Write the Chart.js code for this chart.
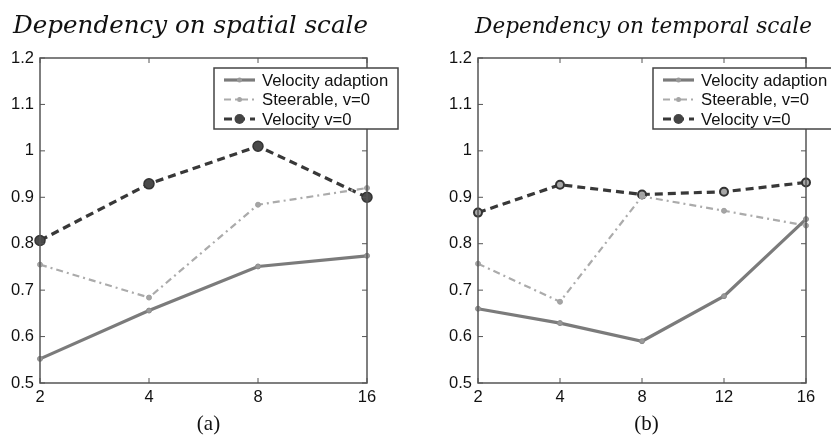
<!DOCTYPE html>
<html>
<head>
<meta charset="utf-8">
<script src="https://cdn.jsdelivr.net/npm/chart.js@4/dist/chart.umd.min.js"></script>
<style>
  html, body { margin: 0; padding: 0; background: #fff; }
  #wrap { position: relative; width: 831px; height: 436px; overflow: hidden; }
  .pane { position: absolute; top: 0; height: 436px; }
</style>
</head>
<body>
<div id="wrap">
  <div class="pane" style="left:0;width:415px;"><canvas id="ca"></canvas></div>
  <div class="pane" style="left:415px;width:416px;"><canvas id="cb"></canvas></div>
</div>
<script>
// ---------- data ----------
const titleA = 'Dependency on spatial scale';
const titleB = 'Dependency on temporal scale';
const captionA = '(a)';
const captionB = '(b)';

const spatialScales = ['2', '4', '8', '16'];
const temporalScales = ['2', '4', '8', '12', '16'];

const seriesNames = ['Velocity adaption', 'Steerable, v=0', 'Velocity v=0'];

const spatialVelocityAdaption = [0.552, 0.656, 0.751, 0.774];
const spatialSteerable = [0.755, 0.684, 0.884, 0.920];
const spatialVelocityV0 = [0.807, 0.929, 1.010, 0.900];

const temporalVelocityAdaption = [0.660, 0.629, 0.590, 0.687, 0.853];
const temporalSteerable = [0.757, 0.675, 0.902, 0.871, 0.839];
const temporalVelocityV0 = [0.867, 0.927, 0.906, 0.912, 0.932];

const yTickLabels = ['0.5', '0.6', '0.7', '0.8', '0.9', '1', '1.1', '1.2'];
const yMin = 0.5, yMax = 1.2, yStep = 0.1;

// ---------- styles ----------
const styles = [
  { color: '#7b7b7b', width: 3.2, dash: [], r: 2.5, fill: '#9a9a9a', border: '#8a8a8a', bw: 1 },
  { color: '#ababab', width: 2.2, dash: [7, 4, 2, 4], r: 2.5, fill: '#a5a5a5', border: '#a0a0a0', bw: 1 },
  { color: '#383838', width: 3.2, dash: [8, 5], r: 5, fill: '#4a4a4a', border: '#333333', bw: 1.5 }
];

function makeDatasets(arrs, v0Hollow) {
  return arrs.map((d, i) => {
    const s = styles[i];
    let fill = s.fill, border = s.border, r = s.r, bw = s.bw;
    if (i === 2 && v0Hollow) { fill = '#a8a8a8'; border = '#333'; r = 4; bw = 2; }
    return {
      label: seriesNames[i],
      data: d,
      borderColor: s.color,
      borderWidth: s.width,
      borderDash: s.dash,
      pointRadius: r,
      pointBackgroundColor: fill,
      pointBorderColor: border,
      pointBorderWidth: bw,
      tension: 0,
      fill: false,
      clip: false
    };
  });
}

Chart.defaults.font.family = "'Liberation Sans', Arial, sans-serif";
Chart.defaults.color = '#111';

const titleFont = "'DejaVu Serif', 'Liberation Serif', serif";

function fitFont(ctx, text, targetW, base) {
  ctx.font = 'italic 24px ' + base;
  const w = ctx.measureText(text).width;
  return 24 * targetW / w;
}

const framePlugin = {
  id: 'frame',
  afterDatasetsDraw(chart, args, opts) {
    const { ctx, chartArea: a, scales } = chart;
    ctx.save();
    ctx.strokeStyle = '#555';
    ctx.lineWidth = 1.5;
    ctx.setLineDash([]);
    ctx.strokeRect(a.left, a.top, a.right - a.left, a.bottom - a.top);
    ctx.lineWidth = 1;
    const tl = 5;
    scales.y.ticks.forEach(t => {
      const y = scales.y.getPixelForValue(t.value);
      ctx.beginPath();
      ctx.moveTo(a.left, y); ctx.lineTo(a.left + tl, y);
      ctx.moveTo(a.right, y); ctx.lineTo(a.right - tl, y);
      ctx.stroke();
    });
    scales.x.ticks.forEach((t, i) => {
      const x = scales.x.getPixelForValue(i);
      ctx.beginPath();
      ctx.moveTo(x, a.bottom); ctx.lineTo(x, a.bottom - tl);
      ctx.moveTo(x, a.top); ctx.lineTo(x, a.top + tl);
      ctx.stroke();
    });
    ctx.restore();
  },
  afterDraw(chart, args, opts) {
    const { ctx } = chart;
    ctx.save();
    const fs = fitFont(ctx, opts.title, opts.titleW, titleFont);
    ctx.font = 'italic ' + fs.toFixed(2) + 'px ' + titleFont;
    ctx.fillStyle = '#111';
    ctx.textAlign = 'center';
    ctx.textBaseline = 'alphabetic';
    ctx.fillText(opts.title, opts.titleX, 33);
    ctx.font = '21px ' + "'Liberation Serif', serif";
    ctx.textBaseline = 'middle';
    ctx.fillText(opts.caption, opts.captionX, 424);
    const L = opts.legend;
    ctx.fillStyle = '#fff';
    ctx.fillRect(L.x, L.y, L.w, L.h);
    ctx.strokeStyle = '#444';
    ctx.lineWidth = 1.5;
    ctx.strokeRect(L.x, L.y, L.w, L.h);
    chart.data.datasets.forEach((ds, i) => {
      const cy = L.y + 12 + i * 19.5;
      const x0 = L.x + 10, x1 = L.x + 41;
      ctx.beginPath();
      ctx.strokeStyle = ds.borderColor;
      ctx.lineWidth = ds.borderWidth;
      ctx.setLineDash(ds.borderDash);
      ctx.moveTo(x0, cy); ctx.lineTo(x1, cy);
      ctx.stroke();
      ctx.setLineDash([]);
      const r = i === 2 ? 5 : 2.5;
      ctx.beginPath();
      ctx.arc((x0 + x1) / 2, cy, r, 0, Math.PI * 2);
      ctx.fillStyle = i === 2 ? '#444' : ds.pointBackgroundColor;
      ctx.fill();
      ctx.font = '16.7px ' + "'Liberation Sans', Arial, sans-serif";
      ctx.fillStyle = '#111';
      ctx.textAlign = 'left';
      ctx.textBaseline = 'middle';
      ctx.fillText(ds.label, L.x + 48, cy + 1);
    });
    ctx.restore();
  }
};

function makeChart(id, labels, arrs, hollow, pad, yWidth, frameOpts) {
  return new Chart(document.getElementById(id), {
    type: 'line',
    data: { labels: labels, datasets: makeDatasets(arrs, hollow) },
    options: {
      responsive: true,
      maintainAspectRatio: false,
      animation: false,
      events: [],
      layout: { padding: pad },
      plugins: { legend: { display: false }, title: { display: false }, tooltip: { enabled: false }, frame: frameOpts },
      scales: {
        x: {
          type: 'category',
          offset: false,
          grid: { display: false, drawTicks: false },
          border: { display: false },
          ticks: { font: { size: 16.5 }, color: '#111', padding: 5, maxRotation: 0, autoSkip: false },
          afterFit(s) { s.height = 30; }
        },
        y: {
          min: yMin, max: yMax,
          grid: { display: false, drawTicks: false },
          border: { display: false },
          ticks: {
            stepSize: yStep,
            font: { size: 16.5 }, color: '#111', padding: 6,
            callback: (v, i) => yTickLabels[i]
          },
          afterFit(s) { s.width = yWidth; }
        }
      }
    },
    plugins: [framePlugin]
  });
}

makeChart('ca', spatialScales, [spatialVelocityAdaption, spatialSteerable, spatialVelocityV0], false,
  { left: 0, top: 58, right: 48, bottom: 23 }, 40,
  { title: titleA, titleW: 355, titleX: 190.5, caption: captionA, captionX: 208.5,
    legend: { x: 214, y: 68, w: 184, h: 61 } });

makeChart('cb', temporalScales, [temporalVelocityAdaption, temporalSteerable, temporalVelocityV0], true,
  { left: 0, top: 58, right: 25, bottom: 23 }, 63,
  { title: titleB, titleW: 337, titleX: 643.5 - 415, caption: captionB, captionX: 646.5 - 415,
    legend: { x: 653 - 415, y: 68, w: 184, h: 61 } });
</script>
</body>
</html>
